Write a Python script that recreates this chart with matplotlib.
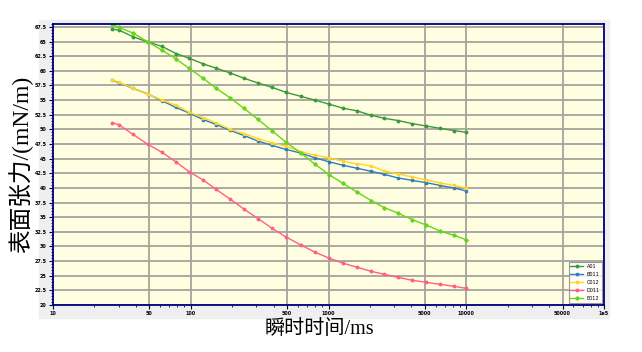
#!/usr/bin/env python3

import matplotlib.pyplot as plt
from matplotlib.patches import Rectangle
from matplotlib.ticker import FixedLocator, MultipleLocator, NullFormatter

# time points (ms)
t = [27, 30, 38, 49, 62, 78, 97, 123, 153, 193, 244, 308, 389, 492, 632,
     798, 1009, 1274, 1610, 2035, 2531, 3199, 4042, 5108, 6455, 8157, 10000]

a01 = [67.09, 66.98, 65.83, 64.92, 64.16, 62.96, 62.17, 61.19, 60.45, 59.64,
       58.73, 57.92, 57.18, 56.32, 55.63, 55.00, 54.31, 53.62, 53.16, 52.42,
       51.90, 51.51, 50.99, 50.58, 50.18, 49.79, 49.50]
b011 = [58.39, 57.97, 57.01, 56.03, 54.88, 53.74, 52.81, 51.68, 50.82, 49.84,
        48.93, 48.00, 47.26, 46.57, 45.94, 45.14, 44.46, 43.87, 43.36, 42.84,
        42.32, 41.70, 41.29, 40.90, 40.43, 39.99, 39.47]
c012 = [58.44, 58.04, 57.01, 55.98, 55.00, 54.14, 52.93, 52.02, 51.09, 50.01,
        49.27, 48.41, 47.72, 47.09, 46.18, 45.59, 45.14, 44.56, 44.11, 43.77,
        42.91, 42.39, 41.88, 41.36, 40.85, 40.43, 39.99]
d011 = [51.09, 50.82, 49.15, 47.43, 46.06, 44.46, 42.79, 41.36, 39.74, 38.09,
        36.37, 34.76, 33.11, 31.61, 30.23, 29.03, 28.00, 27.14, 26.45, 25.76,
        25.25, 24.73, 24.22, 23.87, 23.53, 23.19, 22.84]
e012 = [68.0, 67.43, 66.47, 64.92, 63.51, 62.05, 60.45, 58.73, 57.01, 55.39,
        53.57, 51.70, 49.77, 47.78, 45.97, 44.04, 42.27, 40.78, 39.30, 37.85,
        36.65, 35.69, 34.59, 33.67, 32.64, 31.90, 31.15]

names = ["A01", "B011", "C012", "D011", "E012"]
colors = ["#3a9a3a", "#2f7dbd", "#ffd52a", "#ff5f86", "#66d61a"]
markers = ["o", "s", "s", "o", "D"]

xticks = [10, 50, 100, 500, 1000, 5000, 10000, 50000, 100000]
xlabels = ["10", "50", "100", "500", "1000", "5000", "10000", "50000", "1e5"]
yticks = [20, 22.5, 25, 27.5, 30, 32.5, 35, 37.5, 40, 42.5, 45, 47.5, 50,
          52.5, 55, 57.5, 60, 62.5, 65, 67.5]

fig = plt.figure(figsize=(6.42, 3.52), dpi=100)
# grey chart panel behind the axes
fig.patches.append(Rectangle((39 / 642, 1 - 318 / 352), 570 / 642, 298 / 352,
                             transform=fig.transFigure, color="#efefef", zorder=-5))
ax = fig.add_axes([53 / 642, 1 - 305 / 352, 551 / 642, 281 / 352])
ax.set_zorder(2)
ax.set_facecolor("#fffee0")

for y, n, c, m in zip([a01, b011, c012, d011, e012], names, colors, markers):
    ax.plot(t, y, color=c, marker=m, markersize=1.8, linewidth=1.0, label=n)

ax.set_xscale("log")
ax.set_xlim(10, 100000)
ax.set_ylim(20, 68)
ax.xaxis.set_major_locator(FixedLocator(xticks))
ax.set_xticklabels(xlabels)
ax.xaxis.set_minor_formatter(NullFormatter())
ax.set_yticks(yticks)
ax.set_yticklabels(["%g" % v for v in yticks])
ax.yaxis.set_minor_locator(MultipleLocator(0.5))

ax.grid(True, which="major", color="#a4a49c", linewidth=1.3)
ax.tick_params(which="major", labelsize=3.5, length=3, width=0.8, color="#000060", pad=1.5)
ax.tick_params(which="minor", length=1.5, width=0.6, color="#000060")
for lab in ax.get_xticklabels() + ax.get_yticklabels():
    lab.set_fontweight("bold")
for s in ax.spines.values():
    s.set_color("#000080")
    s.set_linewidth(1.3)

ax.set_ylabel("表面张力/(mN/m)", family=["Liberation Serif", "Noto Sans CJK SC"],
              fontsize=17)
ax.yaxis.set_label_coords(-0.035, 0.5)
ax.set_xlabel("瞬时时间/ms", family=["Liberation Serif", "Noto Sans CJK SC"],
              fontsize=14.5)
ax.xaxis.set_label_coords(0.483, -0.055)

leg = ax.legend(loc="lower right", fontsize=3.5, frameon=True, fancybox=False,
                handlelength=2.5, borderpad=0.4, labelspacing=0.6)
leg.get_frame().set_edgecolor("#808080")
leg.get_frame().set_linewidth(0.8)

fig.savefig("out.png", dpi=100)
